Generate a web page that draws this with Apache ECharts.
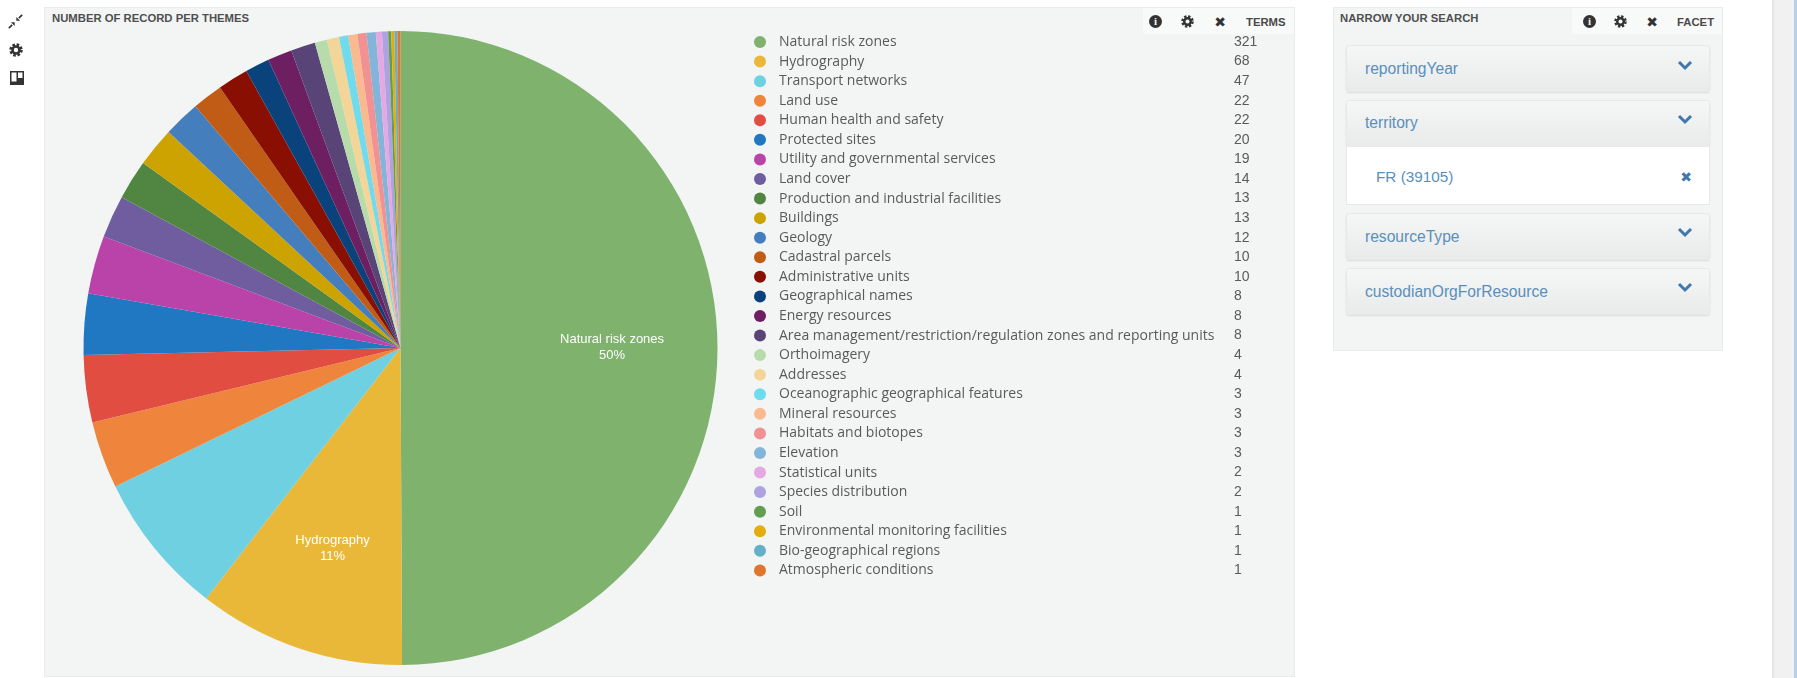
<!DOCTYPE html>
<html>
<head>
<meta charset="utf-8">
<title>Number of record per themes</title>
<script src="https://cdn.jsdelivr.net/npm/echarts@6/dist/echarts.min.js"></script>
<style>
  html, body { margin: 0; padding: 0; background: #fff; width: 1797px; height: 678px; overflow: hidden;
    font-family: "Liberation Sans", Arial, sans-serif; }
  .abs { position: absolute; }
  .panel { background: #f3f5f5; border: 1px solid #eaecec; box-sizing: border-box; }
  .title { font-size: 11.3px; font-weight: bold; color: #4f4f4f; white-space: nowrap; }
  .tab { font-size: 11.3px; font-weight: bold; color: #4a4a4a; white-space: nowrap; }
  .ico { font-size: 14px; color: #333; line-height: 14px; text-align: center; width: 18px; font-family: "DejaVu Sans"; }
  .info { width: 13px; height: 13px; border-radius: 50%; background: #333; color: #f5f5f5; font: bold 11px/13px "Liberation Serif"; text-align: center; }
  .head-strip { background: #f8f9f9; height: 26px; top: 8px; }
  .acc { left: 1346px; width: 364px; box-sizing: border-box; border: 1px solid #e8e8e8; border-radius: 3px;
    background: linear-gradient(#f5f6f6, #e9eaea); box-shadow: 0 1px 2px rgba(0,0,0,.1); }
  .acc-t { left: 1365px; font-size: 15.6px; color: #5a8fbb; white-space: nowrap; }
  #main { position: absolute; left: 0; top: 0; width: 1797px; height: 678px; }
</style>
</head>
<body>
  <svg width="0" height="0" style="position:absolute">
    <symbol id="gear" viewBox="0 0 16 16">
      <circle cx="8" cy="8" r="4" fill="none" stroke="#333" stroke-width="3"/>
      <circle cx="8" cy="8" r="6.2" fill="none" stroke="#333" stroke-width="3" stroke-dasharray="2.87 2"/>
    </symbol>
  </svg>

  <!-- side toolbar -->
  <svg class="abs" style="left:8px;top:14px" width="15" height="15" viewBox="0 0 18 18">
    <path d="M1 17 L5 13 M17 1 L13 5" stroke="#333" stroke-width="2" fill="none"/>
    <path d="M8 10 L3.5 10 L8 14.5 Z M10 8 L14.5 8 L10 3.5 Z" fill="#333"/>
  </svg>
  <svg class="abs" style="left:9px;top:43px" width="14" height="14"><use href="#gear"/></svg>
  <svg class="abs" style="left:10px;top:71px" width="14" height="14" viewBox="0 0 14 14">
    <rect x="0" y="0" width="14" height="14" fill="#333"/>
    <rect x="1.5" y="1.5" width="5" height="9" fill="#fff"/>
    <rect x="8" y="1.5" width="4.5" height="5.5" fill="#fff"/>
  </svg>

  <!-- themes panel -->
  <div class="abs panel" style="left:44px;top:7px;width:1251px;height:670px"></div>
  <div class="abs head-strip" style="left:1143px;width:151px"></div>
  <div class="abs title" style="left:52px;top:12px">NUMBER OF RECORD PER THEMES</div>
  <div class="abs info" style="left:1149px;top:15px">i</div>
  <svg class="abs" style="left:1181px;top:15px" width="13" height="13"><use href="#gear"/></svg>
  <div class="abs ico" style="left:1211px;top:15px">&#10006;</div>
  <div class="abs tab" style="left:1246px;top:16px">TERMS</div>

  <!-- facet panel -->
  <div class="abs panel" style="left:1333px;top:7px;width:390px;height:344px"></div>
  <div class="abs head-strip" style="left:1572px;width:150px"></div>
  <div class="abs title" style="left:1340px;top:12px">NARROW YOUR SEARCH</div>
  <div class="abs info" style="left:1583px;top:15px">i</div>
  <svg class="abs" style="left:1614px;top:15px" width="13" height="13"><use href="#gear"/></svg>
  <div class="abs ico" style="left:1643px;top:15px">&#10006;</div>
  <div class="abs tab" style="left:1677px;top:16px">FACET</div>

  <div class="abs acc" style="top:45px;height:47px"></div>
  <div class="abs acc-t" style="top:60px">reportingYear</div>
  <div class="abs acc" style="top:100px;height:47px"></div>
  <div class="abs acc-t" style="top:114px">territory</div>
  <div class="abs" style="left:1346px;top:147px;width:364px;height:58px;background:#fff;border:1px solid #e8e8e8;border-top:0;box-sizing:border-box"></div>
  <div class="abs" style="left:1376px;top:168px;font-size:15.3px;color:#5a8fbb;white-space:nowrap">FR (39105)</div>
  <div class="abs ico" style="left:1677px;top:170px;color:#3f78ad">&#10006;</div>
  <div class="abs acc" style="top:213px;height:47px"></div>
  <div class="abs acc-t" style="top:228px">resourceType</div>
  <div class="abs acc" style="top:268px;height:47px"></div>
  <div class="abs acc-t" style="top:283px">custodianOrgForResource</div>
  <svg class="abs" style="left:1676px;top:61px" width="18" height="240" viewBox="0 0 18 240">
    <g fill="none" stroke="#3f78ad" stroke-width="3">
      <path d="M3 1 L9 7 L15 1"/><path d="M3 55 L9 61 L15 55"/><path d="M3 168 L9 174 L15 168"/><path d="M3 223 L9 229 L15 223"/>
    </g>
  </svg>

  <!-- page scrollbar -->
  <div class="abs" style="left:1772px;top:0;width:22px;height:678px;background:#f1f1f1;border-left:2px solid #e6e6e6;box-sizing:border-box"></div>
  <div class="abs" style="left:1794px;top:0;width:3px;height:678px;background:#b5d0e8"></div>

  <div id="main"></div>

<script>
// Record counts per INSPIRE theme
const themes = [
  'Natural risk zones', 'Hydrography', 'Transport networks', 'Land use',
  'Human health and safety', 'Protected sites', 'Utility and governmental services',
  'Land cover', 'Production and industrial facilities', 'Buildings', 'Geology',
  'Cadastral parcels', 'Administrative units', 'Geographical names', 'Energy resources',
  'Area management/restriction/regulation zones and reporting units', 'Orthoimagery',
  'Addresses', 'Oceanographic geographical features', 'Mineral resources',
  'Habitats and biotopes', 'Elevation', 'Statistical units', 'Species distribution',
  'Soil', 'Environmental monitoring facilities', 'Bio-geographical regions',
  'Atmospheric conditions'
];
const counts = [321, 68, 47, 22, 22, 20, 19, 14, 13, 13, 12, 10, 10, 8, 8, 8, 4, 4, 3, 3, 3, 3, 2, 2, 1, 1, 1, 1];
const palette = [
  '#7EB26D', '#EAB839', '#6ED0E0', '#EF843C', '#E24D42', '#1F78C1', '#BA43A9',
  '#705DA0', '#508642', '#CCA300', '#447EBC', '#C15C17', '#890F02', '#0A437C',
  '#6D1F62', '#584477', '#B7DBAB', '#F4D598', '#70DBED', '#F9BA8F', '#F29191',
  '#82B5D8', '#E5A8E2', '#AEA2E0', '#629E51', '#E5AC0E', '#64B0C8', '#E0752D'
];

const pieCenter = [400.5, 348];
const countOf = Object.fromEntries(themes.map((t, i) => [t, counts[i]]));

const chart = echarts.init(document.getElementById('main'), null, { renderer: 'canvas' });
chart.setOption({
  animation: false,
  color: palette,
  legend: {
    orient: 'vertical',
    left: 754,
    top: 35,
    padding: 0,
    itemWidth: 12,
    itemHeight: 12,
    itemGap: 5.57,
    icon: 'circle',
    selectedMode: false,
    data: themes,
    formatter: name => `{n|${name}}{v|${countOf[name]}}`,
    textStyle: {
      rich: {
        n: { width: 455, fontSize: 14, lineHeight: 14, color: '#5a5a5a', padding: [0, 0, 0, 8], fontFamily: 'Open Sans' },
        v: { fontSize: 14, lineHeight: 14, color: '#5a5a5a', fontFamily: 'Liberation Sans' }
      }
    }
  },
  series: [{
    type: 'pie',
    center: pieCenter,
    radius: 317,
    startAngle: 90,
    clockwise: true,
    percentPrecision: 0,
    minShowLabelAngle: 30,
    silent: true,
    label: {
      show: true,
      position: 'inner',
      formatter: '{b}\n{d}%',
      color: '#fff',
      fontSize: 13,
      lineHeight: 16,
      fontFamily: 'Liberation Sans'
    },
    // slice labels sit two thirds of the way out rather than half way
    labelLayout(params) {
      const r = params.labelRect;
      const k = 0.31;
      return {
        dx: (r.x + r.width / 2 - pieCenter[0]) * k,
        dy: (r.y + r.height / 2 - pieCenter[1]) * k
      };
    },
    data: themes.map((name, i) => ({ name, value: counts[i] }))
  }]
});
</script>
</body>
</html>
